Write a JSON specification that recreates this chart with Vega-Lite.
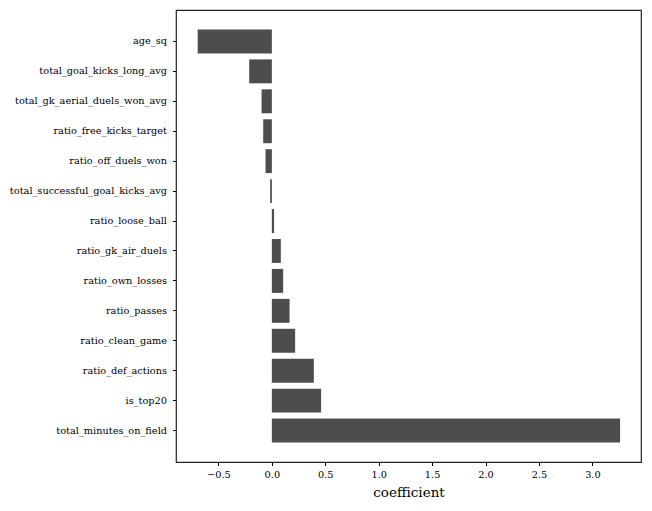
{
  "$schema": "https://vega.github.io/schema/vega-lite/v6.json",
  "autosize": {"type": "none"},
  "padding": {"left": 176, "top": 10, "right": 11, "bottom": 49},
  "width": 465,
  "height": 452,
  "data": {"values": [
    {"feature": "age_sq", "coef": -0.694},
    {"feature": "total_goal_kicks_long_avg", "coef": -0.212},
    {"feature": "total_gk_aerial_duels_won_avg", "coef": -0.096},
    {"feature": "ratio_free_kicks_target", "coef": -0.081},
    {"feature": "ratio_off_duels_won", "coef": -0.059},
    {"feature": "total_successful_goal_kicks_avg", "coef": -0.016},
    {"feature": "ratio_loose_ball", "coef": 0.021},
    {"feature": "ratio_gk_air_duels", "coef": 0.084},
    {"feature": "ratio_own_losses", "coef": 0.106},
    {"feature": "ratio_passes", "coef": 0.166},
    {"feature": "ratio_clean_game", "coef": 0.218},
    {"feature": "ratio_def_actions", "coef": 0.393},
    {"feature": "is_top20", "coef": 0.461},
    {"feature": "total_minutes_on_field", "coef": 3.259}
  ]},
  "config": {
    "font": "DejaVu Serif",
    "view": {"stroke": "#222222", "strokeWidth": 1.2},
    "axis": {"grid": false, "domain": false, "tickColor": "#000000", "tickSize": 3.5, "labelColor": "#000000", "labelFont": "DejaVu Serif", "labelFontSize": 9.75, "titleFont": "DejaVu Serif", "titleFontWeight": "normal", "titleColor": "#000000"}
  },
  "mark": {"type": "bar", "color": "#4d4d4d"},
  "encoding": {
    "y": {
      "field": "feature", "type": "nominal", "sort": null,
      "scale": {"paddingInner": 0.2, "paddingOuter": 0.65},
      "axis": {"title": null, "labelPadding": 6}
    },
    "x": {
      "field": "coef", "type": "quantitative",
      "scale": {"domain": [-0.897, 3.455], "nice": false, "zero": false},
      "axis": {"title": "coefficient", "titleFontSize": 13.5, "titlePadding": 6, "values": [-0.5, 0, 0.5, 1, 1.5, 2, 2.5, 3], "format": ".1f", "labelPadding": 4}
    }
  }
}
